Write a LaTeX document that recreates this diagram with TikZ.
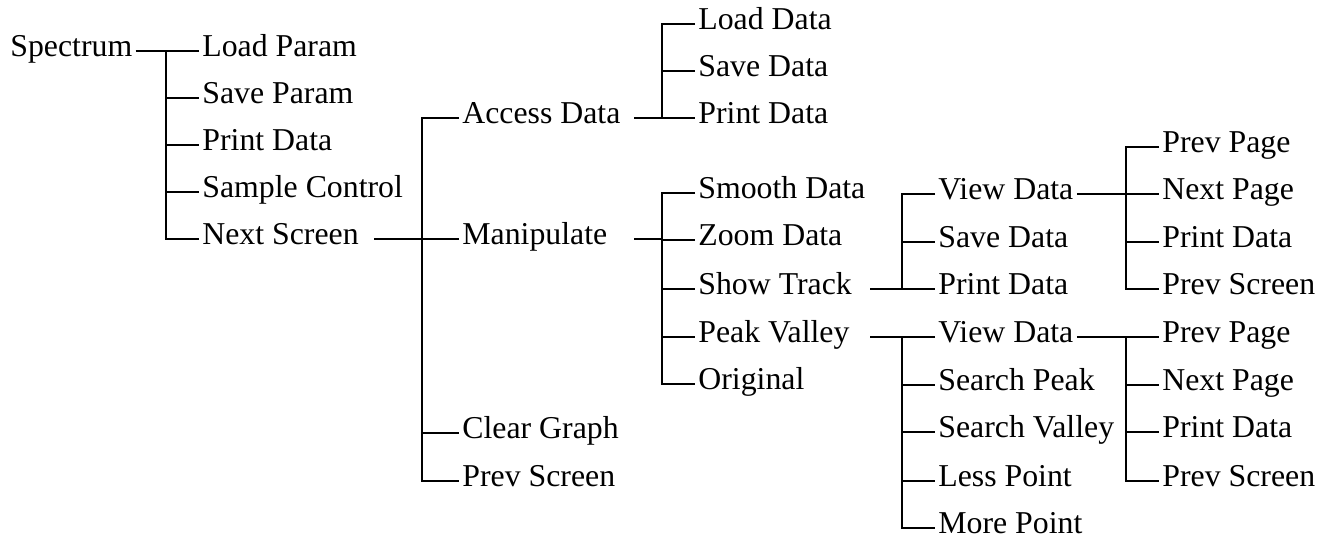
\documentclass[tikz,border=0pt]{standalone}
\usepackage{fontspec}
\setmainfont{Liberation Serif}
\usetikzlibrary{positioning, calc}

\begin{document}
\begin{tikzpicture}[
            x=0.5pt, y=-0.5pt,
            item/.style={anchor=west, inner sep=1.5pt, text height=0.75em, text depth=0.19em,
                         font=\fontsize{15.9}{19}\selectfont},
            link/.style={line width=1pt}
        ]
        \useasboundingbox (0,0) rectangle (1319,541);

        % ===== BAR POSITIONS =====
        \coordinate (b1) at (166,0);
        \coordinate (b2) at (422,0);
        \coordinate (b3) at (662,0);
        \coordinate (b4) at (902,0);
        \coordinate (b5) at (1126,0);
        % start of the lines after short/long labels
        \coordinate (s2) at (374,0);
        \coordinate (s3) at (634,0);
        \coordinate (s4) at (870,0);

        % ===== ROOT =====
        \node[item] (spectrum) at (7,51) {Spectrum};

        % ===== MAIN MENU =====
        \node[item] (loadparam) at (199,51) {Load Param};
        \node[item] (saveparam) at (199,98) {Save Param};
        \node[item] (printparam) at (199,145) {Print Data};
        \node[item] (samplectrl) at (199,192) {Sample Control};
        \node[item] (nextscreen) at (199,239) {Next Screen};

        % ===== NEXT SCREEN =====
        \node[item] (accessdata) at (459,118) {Access Data};
        \node[item] (manipulate) at (459,239) {Manipulate};
        \node[item] (cleargraph) at (459,433) {Clear Graph};
        \node[item] (prevscreen) at (459,481) {Prev Screen};

        % ===== ACCESS DATA =====
        \node[item] (loaddata) at (695,24) {Load Data};
        \node[item] (savedata) at (695,71) {Save Data};
        \node[item] (printdata) at (695,118) {Print Data};

        % ===== MANIPULATE =====
        \node[item] (smooth) at (695,193) {Smooth Data};
        \node[item] (zoom) at (695,240) {Zoom Data};
        \node[item] (showtrack) at (695,289) {Show Track};
        \node[item] (peakvalley) at (695,337) {Peak Valley};
        \node[item] (original) at (695,384) {Original};

        % ===== SHOW TRACK =====
        \node[item] (trkview) at (935,194) {View Data};
        \node[item] (trksave) at (935,242) {Save Data};
        \node[item] (trkprint) at (935,289) {Print Data};

        % ===== PEAK VALLEY =====
        \node[item] (pkview) at (935,337) {View Data};
        \node[item] (srchpeak) at (935,385) {Search Peak};
        \node[item] (srchvalley) at (935,432) {Search Valley};
        \node[item] (lesspt) at (935,481) {Less Point};
        \node[item] (morept) at (935,528) {More Point};

        % ===== VIEW DATA (TRACK) =====
        \node[item] (trkprev) at (1159,147) {Prev Page};
        \node[item] (trknext) at (1159,194) {Next Page};
        \node[item] (trkpdata) at (1159,242) {Print Data};
        \node[item] (trkback) at (1159,289) {Prev Screen};

        % ===== VIEW DATA (PEAK) =====
        \node[item] (pkprev) at (1159,337) {Prev Page};
        \node[item] (pknext) at (1159,385) {Next Page};
        \node[item] (pkpdata) at (1159,432) {Print Data};
        \node[item] (pkback) at (1159,481) {Prev Screen};

        % ===== LINES =====
        % Spectrum
        \draw[link] (spectrum.east) -- (b1 |- spectrum.east);
        \draw[link] (loadparam.west) -| (b1 |- nextscreen.west) -- (nextscreen.west);
        \draw[link] (b1 |- saveparam.west) -- (saveparam.west);
        \draw[link] (b1 |- printparam.west) -- (printparam.west);
        \draw[link] (b1 |- samplectrl.west) -- (samplectrl.west);

        % Next Screen
        \draw[link] (s2 |- nextscreen.west) -- (b2 |- nextscreen.west);
        \draw[link] (accessdata.west) -| (b2 |- prevscreen.west) -- (prevscreen.west);
        \draw[link] (b2 |- manipulate.west) -- (manipulate.west);
        \draw[link] (b2 |- cleargraph.west) -- (cleargraph.west);

        % Access Data
        \draw[link] (s3 |- accessdata.west) -- (printdata.west);
        \draw[link] (loaddata.west) -| (b3 |- printdata.west);
        \draw[link] (b3 |- savedata.west) -- (savedata.west);

        % Manipulate
        \draw[link] (s3 |- manipulate.west) -- (b3 |- manipulate.west);
        \draw[link] (smooth.west) -| (b3 |- original.west) -- (original.west);
        \draw[link] (b3 |- zoom.west) -- (zoom.west);
        \draw[link] (b3 |- showtrack.west) -- (showtrack.west);
        \draw[link] (b3 |- peakvalley.west) -- (peakvalley.west);

        % Show Track
        \draw[link] (s4 |- showtrack.west) -- (trkprint.west);
        \draw[link] (trkview.west) -| (b4 |- trkprint.west);
        \draw[link] (b4 |- trksave.west) -- (trksave.west);

        % Peak Valley
        \draw[link] (s4 |- peakvalley.west) -- (b4 |- peakvalley.west);
        \draw[link] (pkview.west) -| (b4 |- morept.west) -- (morept.west);
        \draw[link] (b4 |- srchpeak.west) -- (srchpeak.west);
        \draw[link] (b4 |- srchvalley.west) -- (srchvalley.west);
        \draw[link] (b4 |- lesspt.west) -- (lesspt.west);

        % View Data (track)
        \draw[link] (trkview.east) -- (b5 |- trkview.east);
        \draw[link] (trkprev.west) -| (b5 |- trkback.west) -- (trkback.west);
        \draw[link] (b5 |- trknext.west) -- (trknext.west);
        \draw[link] (b5 |- trkpdata.west) -- (trkpdata.west);

        % View Data (peak)
        \draw[link] (pkview.east) -- (pkprev.west);
        \draw[link] (b5 |- pkprev.west) -- (b5 |- pkback.west) -- (pkback.west);
        \draw[link] (b5 |- pknext.west) -- (pknext.west);
        \draw[link] (b5 |- pkpdata.west) -- (pkpdata.west);

        \end{tikzpicture}
\end{document}
